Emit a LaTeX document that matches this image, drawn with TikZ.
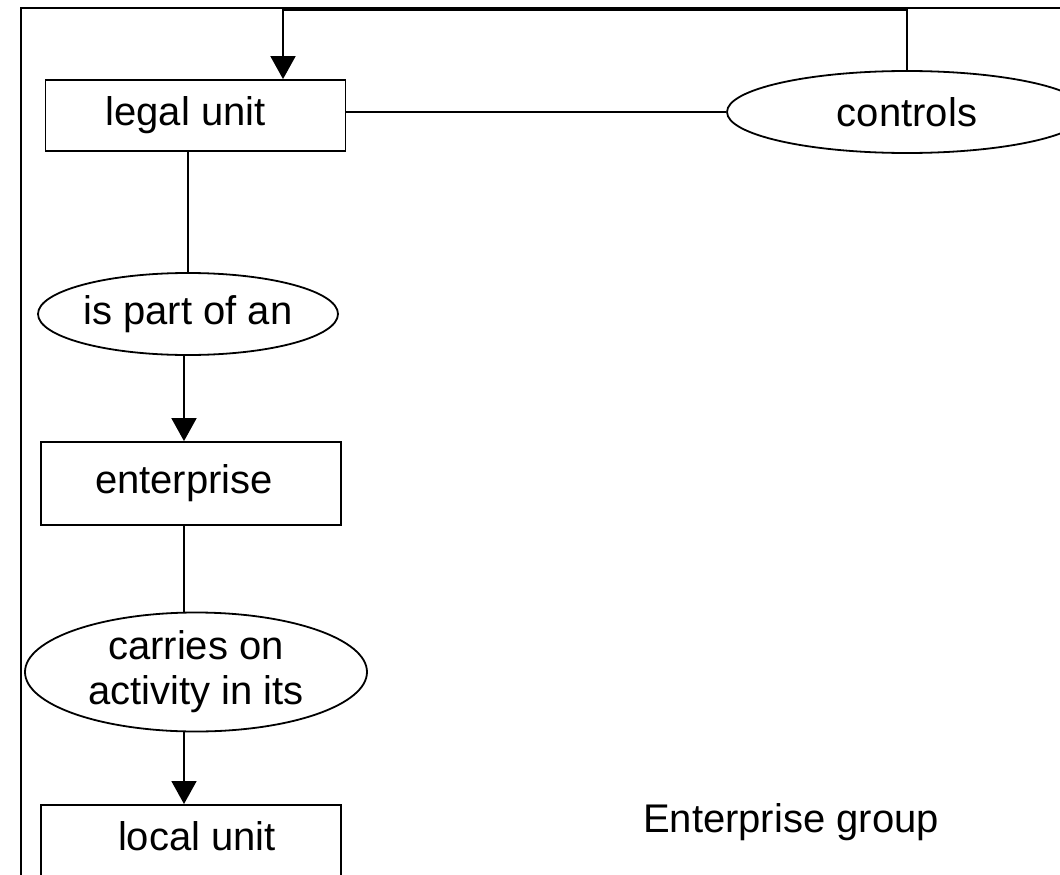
\documentclass[tikz,border=0pt]{standalone}
\usepackage{fontspec}
\setmainfont{Liberation Sans}
\usetikzlibrary{shapes.geometric,arrows.meta}
\begin{document}
\begin{tikzpicture}[x=1pt,y=-1pt,
  every node/.style={font=\fontsize{40}{45}\selectfont, inner sep=0pt, line width=1.8pt},
  unitbox/.style={draw, rectangle, minimum width=300pt},
  relation/.style={draw, ellipse, align=center},
  conn/.style={line width=1.8pt},
  arr/.style={conn, -{Triangle[length=23pt,width=25pt]}}]
\useasboundingbox (0,0) rectangle (1060,875);
\clip (0,0) rectangle (1060,875);
% outer frame (cut off at right and bottom)
\draw[conn] (21,1000) -- (21,8) -- (1100,8);
% nodes
\node[unitbox, minimum height=71pt] (legal) at (195.5,115.5) {\raisebox{1pt}{\hspace*{-20pt}legal unit}};
\node[relation, minimum width=360pt, minimum height=82pt] (controls) at (907,112) {controls};
\node[relation, minimum width=300pt, minimum height=82pt] (part) at (188,314) {is part of an};
\node[unitbox, minimum height=83pt] (enterprise) at (191,483.5) {\raisebox{6pt}{\hspace*{-14pt}enterprise}};
\node[relation, minimum width=342pt, minimum height=119pt] (carries) at (196,672) {carries on\\activity in its};
\node[unitbox, anchor=north, text height=46pt, text depth=70pt] (local) at (191,804) {\hspace*{12pt}local unit};
\node (group) at (791,822) {Enterprise group};
% connectors
\coordinate (top) at (283,10);
\draw[arr] (controls.north) |- (top) -- (top |- legal.north);
\draw[conn] (legal.east |- controls.west) -- (controls.west);
\draw[conn] (part.north |- legal.south) -- (part.north);
\draw[arr] ([xshift=-4pt]part.south) -- ([xshift=-4pt]part.south |- enterprise.north);
\draw[conn] ([xshift=-7pt]enterprise.south) -- ([xshift=-7pt]enterprise.south |- carries.north);
\draw[arr] ([xshift=-12pt]carries.south) -- ([xshift=-12pt]carries.south |- local.north);
\end{tikzpicture}
\end{document}
